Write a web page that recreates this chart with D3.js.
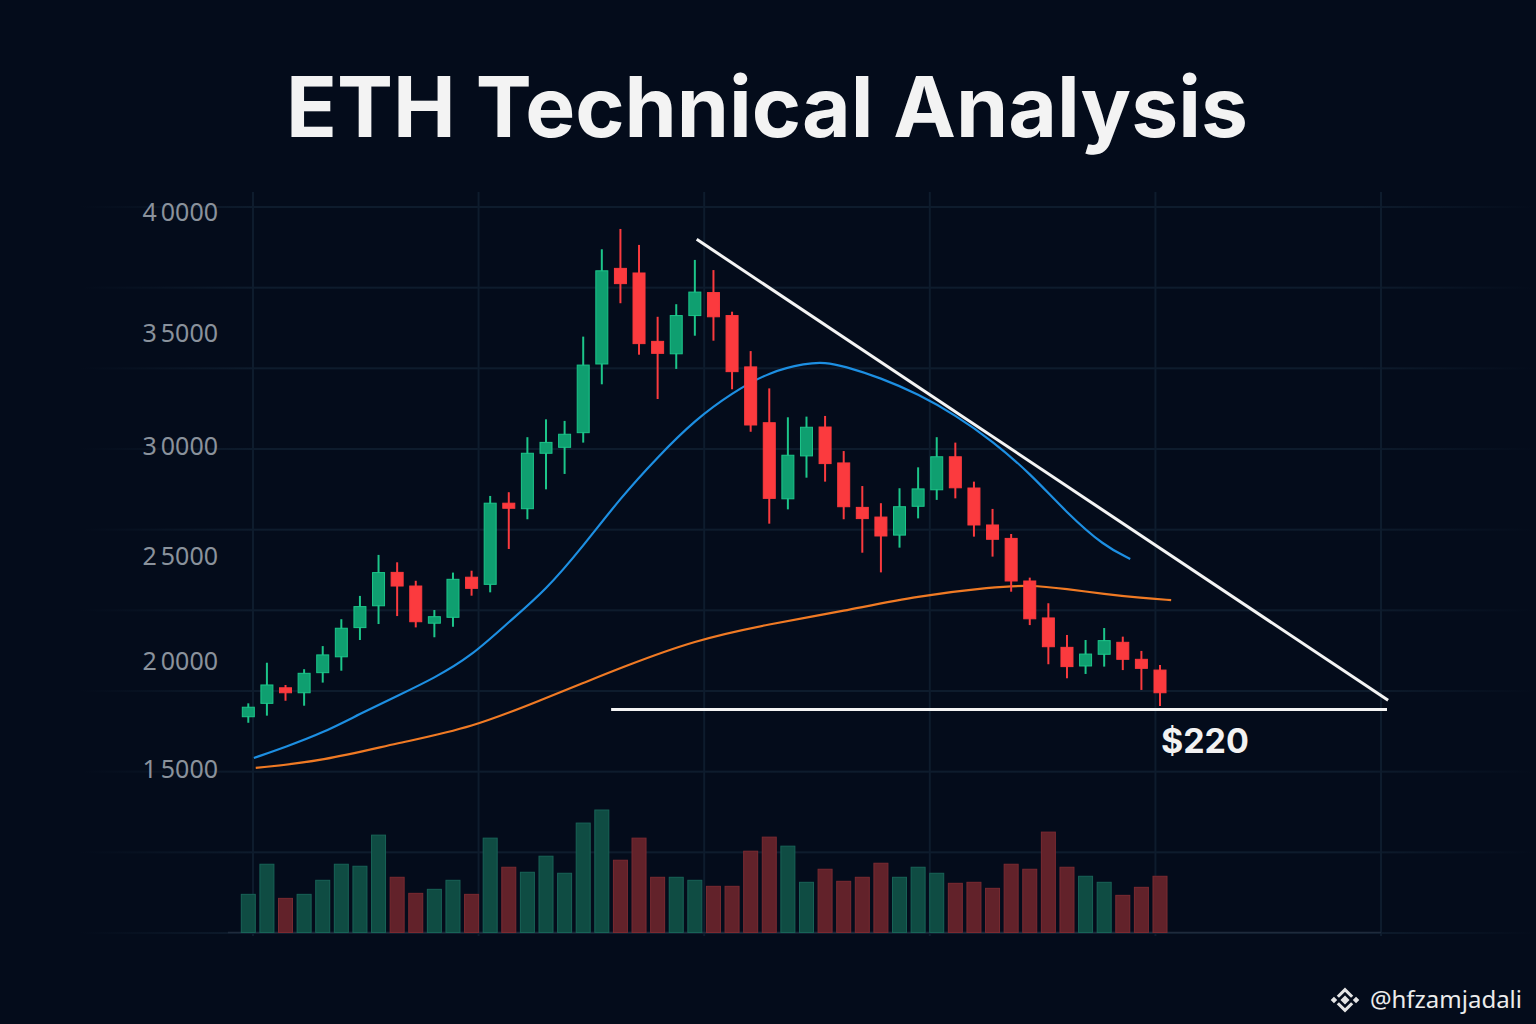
<!DOCTYPE html>
<html>
<head>
<meta charset="utf-8">
<script src="https://cdn.jsdelivr.net/npm/d3@7"></script>
<style>
  html, body { margin: 0; padding: 0; background: #040c1b; }
  svg { display: block; }
</style>
</head>
<body>
<div class="chart"></div>
<script>
//Values. One entry per candle, left to right.
const opens  = [17420,18040,18760,18530,19460,20200,21590,22630,24220,23570,21800,22080,23990,23650,27400,27150,29670,29940,30590,33630,37670,37480,34630,34080,35720,36670,35720,33500,31030,27600,29550,30840,29230,27210,26770,25950,27260,28010,29510,28090,26410,25800,23810,22050,20650,19770,20320,20890,20080,19580];
const highs  = [18040,19920,18890,19620,20710,21990,23100,25050,24700,23820,22430,24210,24300,27730,27900,30390,31180,31110,34840,38460,39300,38640,35670,36190,38020,37600,35880,34200,32550,31270,31300,31330,29770,28180,27400,28080,29030,30390,30150,28380,27140,26000,23970,22750,21240,21000,21570,21160,20480,19820];
const lows   = [17140,17470,18160,17930,19000,19550,21000,21760,22140,21600,21130,21630,23110,23270,25320,26670,28030,28730,30150,32730,36230,34040,32080,33410,34880,34660,32510,30630,26470,27120,28560,28380,26670,25150,24220,25380,26710,27550,27620,25880,24970,23300,21710,19850,19200,19400,19740,19580,18660,17920];
const closes = [17860,18890,18530,19430,20290,21560,22590,24210,23570,21870,22110,23890,23460,27400,27170,29670,30160,30520,33580,37570,37040,34530,34100,35720,36690,35670,33290,30930,27620,29580,30830,29200,27240,26700,25910,27240,28050,29510,28100,26410,25760,23810,22010,20680,19740,20330,20970,20080,19660,18530];
const volumes = [3.8,6.8,3.4,3.8,5.2,6.8,6.6,9.7,5.5,3.9,4.3,5.2,3.8,9.4,6.5,6.0,7.6,5.9,10.9,12.2,7.2,9.4,5.5,5.5,5.2,4.6,4.6,8.1,9.5,8.6,5.0,6.3,5.1,5.5,6.9,5.5,6.5,5.9,4.9,5.0,4.4,6.8,6.3,10.0,6.5,5.6,5.0,3.7,4.5,5.6];

//price axis labels
const priceTicks = [15000, 20000, 25000, 30000, 35000, 40000];

//moving averages, sampled at candle positions
const maFastIdx = [0.3,2,4,6,8,10,12,14,16,18,20,22,24,26,28,30,31,32,34,36,38,40,42,44,46,47.4];
const maFastVal = [15510,16020,16670,17550,18380,19210,20240,21860,23380,25450,27640,29500,31150,32350,33280,33670,33700,33540,33010,32300,31370,30220,28770,26950,25450,24860];
const maSlowIdx = [0.4,4,8,12,16,18,20,24,28,32,36,40,42,44,46,48,49.6];
const maSlowVal = [15050,15370,16200,16900,18290,18980,19680,21000,21760,22380,23100,23520,23620,23430,23190,23000,22900];

//drawn lines: [candle index, price]
const trendLine = [[24.1, 38870], [61.26, 18180]];
const supportLine = [[19.5, 17755], [61.2, 17755]];
const supportLabel = "$220";
const supportLabelIdx = 49.05;

const titleText = "ETH Technical Analysis";
const handle = "@hfzamjadali";


let chart = {};

chart.width = 1536;
chart.height = 1024;

chart.candles = opens.map((o, i) => ({
    i: i,
    open: o,
    high: highs[i],
    low: lows[i],
    close: closes[i],
    vol: volumes[i],
    up: closes[i] >= o
}));

chart.colors = {
    bg: "#040c1b",
    grid: "#0e1c2d",
    up: "#0f9f70",
    upEdge: "#1cc68a",
    down: "#fb3a3e",
    volUp: "#0f4c43",
    volUpEdge: "#186357",
    volDown: "#62222a",
    volDownEdge: "#7a2a31",
    fast: "#1d8fe2",
    slow: "#f07a24",
    label: "#8a929c"
};

//Scales
chart.x = d3.scaleLinear().domain([0, 49]).range([248.3, 1160]);
chart.y = d3.scaleLinear().domain(priceTicks).range([769, 661, 556, 446, 333, 212]);
chart.yVol = d3.scaleLinear().domain([0, 13]).range([932.5, 802]);
chart.gridY = d3.scaleLinear().domain([0, 9]).range([207, 933]);
chart.gridX = d3.scaleLinear().domain([0, 5]).range([253, 1381]);

chart.svg = d3.select(".chart").append("svg")
    .attr("width", chart.width)
    .attr("height", chart.height);

chart.svg.append("rect")
    .attr("width", chart.width)
    .attr("height", chart.height)
    .attr("fill", chart.colors.bg);

//fading gridlines
let defs = chart.svg.append("defs");
let fade = defs.append("linearGradient").attr("id", "fadeX");
fade.append("stop").attr("offset", "0%").attr("stop-color", chart.colors.grid).attr("stop-opacity", 0);
fade.append("stop").attr("offset", "12%").attr("stop-color", chart.colors.grid).attr("stop-opacity", 1);
fade.append("stop").attr("offset", "88%").attr("stop-color", chart.colors.grid).attr("stop-opacity", 1);
fade.append("stop").attr("offset", "100%").attr("stop-color", chart.colors.grid).attr("stop-opacity", 0);

chart.svg.append("g").attr("class", "grid-h")
    .selectAll("rect")
    .data(d3.range(10))
    .enter().append("rect")
    .attr("x", 80)
    .attr("width", 1456)
    .attr("y", d => chart.gridY(d) - 1)
    .attr("height", 2)
    .attr("fill", "url(#fadeX)");

chart.svg.append("g").attr("class", "grid-v")
    .selectAll("line")
    .data(d3.range(6))
    .enter().append("line")
    .attr("x1", d => chart.gridX(d))
    .attr("x2", d => chart.gridX(d))
    .attr("y1", 192)
    .attr("y2", 936)
    .attr("stroke", chart.colors.grid)
    .attr("stroke-width", 2);

//volume baseline
chart.svg.append("line")
    .attr("x1", 228).attr("x2", chart.gridX(5))
    .attr("y1", chart.yVol(0)).attr("y2", chart.yVol(0))
    .attr("stroke", "#1f2b3c")
    .attr("stroke-width", 1.5);

//price labels
let labels = chart.svg.append("g").attr("class", "y-labels")
    .selectAll("text")
    .data(priceTicks)
    .enter().append("text")
    .attr("x", 218)
    .attr("y", d => chart.y(d))
    .attr("dy", "0.36em")
    .attr("text-anchor", "end")
    .style("font-family", "'Noto Sans', 'Open Sans', sans-serif")
    .style("font-size", "25px")
    .style("fill", chart.colors.label);

labels.append("tspan").text(d => String(d).slice(0, 1));
labels.append("tspan").attr("dx", 4).text(d => String(d).slice(1));

//volume bars
chart.svg.append("g").attr("class", "volume")
    .selectAll("rect")
    .data(chart.candles)
    .enter().append("rect")
    .attr("x", d => chart.x(d.i) - 7)
    .attr("width", 14)
    .attr("y", d => chart.yVol(d.vol))
    .attr("height", d => chart.yVol(0) - chart.yVol(d.vol))
    .attr("fill", d => d.up ? chart.colors.volUp : chart.colors.volDown)
    .attr("stroke", d => d.up ? chart.colors.volUpEdge : chart.colors.volDownEdge)
    .attr("stroke-width", 1);

//moving averages
let line = d3.line()
    .x(d => chart.x(d[0]))
    .y(d => chart.y(d[1]))
    .curve(d3.curveBasis);

chart.svg.append("path")
    .attr("class", "ma-slow")
    .attr("d", line(maSlowIdx.map((v, i) => [v, maSlowVal[i]])))
    .attr("fill", "none")
    .attr("stroke", chart.colors.slow)
    .attr("stroke-width", 2.2);

chart.svg.append("path")
    .attr("class", "ma-fast")
    .attr("d", line(maFastIdx.map((v, i) => [v, maFastVal[i]])))
    .attr("fill", "none")
    .attr("stroke", chart.colors.fast)
    .attr("stroke-width", 2.2);

//candles
let candle = chart.svg.append("g").attr("class", "candles")
    .selectAll("g")
    .data(chart.candles)
    .enter().append("g");

candle.append("line")
    .attr("x1", d => chart.x(d.i))
    .attr("x2", d => chart.x(d.i))
    .attr("y1", d => chart.y(d.high))
    .attr("y2", d => chart.y(d.low))
    .attr("stroke", d => d.up ? chart.colors.upEdge : chart.colors.down)
    .attr("stroke-width", 2);

candle.append("rect")
    .attr("x", d => chart.x(d.i) - 6)
    .attr("width", 12)
    .attr("y", d => chart.y(Math.max(d.open, d.close)))
    .attr("height", d => Math.max(2, chart.y(Math.min(d.open, d.close)) - chart.y(Math.max(d.open, d.close))))
    .attr("fill", d => d.up ? chart.colors.up : chart.colors.down)
    .attr("stroke", d => d.up ? chart.colors.upEdge : chart.colors.down)
    .attr("stroke-width", 1);

//trend and support lines
let straight = d3.line()
    .x(d => chart.x(d[0]))
    .y(d => chart.y(d[1]));

chart.svg.append("path")
    .attr("d", straight(supportLine))
    .attr("stroke", "#f4f4f4")
    .attr("stroke-width", 3)
    .attr("fill", "none");

chart.svg.append("path")
    .attr("d", straight(trendLine))
    .attr("stroke", "#f4f4f4")
    .attr("stroke-width", 3)
    .attr("fill", "none");

chart.svg.append("text")
    .attr("x", chart.x(supportLabelIdx))
    .attr("y", chart.y(supportLine[0][1]) + 44)
    .style("font-family", "Inter, 'Noto Sans', sans-serif")
    .style("font-weight", 700)
    .style("font-size", "34px")
    .style("fill", "#f2f2f2")
    .text(supportLabel);

//title
let title = chart.svg.append("text")
    .attr("x", 767)
    .attr("y", 137)
    .attr("text-anchor", "middle")
    .style("font-family", "Inter, 'Noto Sans', sans-serif")
    .style("font-weight", 700)
    .style("font-size", "87px")
    .style("fill", "#f3f3f3")
    .text(titleText);

let tw = title.node().getComputedTextLength();
title.style("font-size", (87 * 962 / tw) + "px");

//watermark
let mark = chart.svg.append("g").attr("transform", "translate(1345,1000) scale(1.3)");
mark.append("path")
    .attr("d", "M0,-3.5L3.5,0L0,3.5L-3.5,0Z M-11,0L-8.5,-2.5L-6,0L-8.5,2.5Z M6,0L8.5,-2.5L11,0L8.5,2.5Z")
    .attr("fill", "#e4e4e4");
mark.append("path")
    .attr("d", "M-5.5,-2.5L0,-8L5.5,-2.5 M-5.5,2.5L0,8L5.5,2.5")
    .attr("fill", "none")
    .attr("stroke", "#e4e4e4")
    .attr("stroke-width", 2.4);

chart.svg.append("text")
    .attr("x", 1522)
    .attr("y", 1008)
    .attr("text-anchor", "end")
    .style("font-family", "'Noto Sans', sans-serif")
    .style("font-size", "24px")
    .style("fill", "#ececec")
    .text(handle);
</script>
</body>
</html>
